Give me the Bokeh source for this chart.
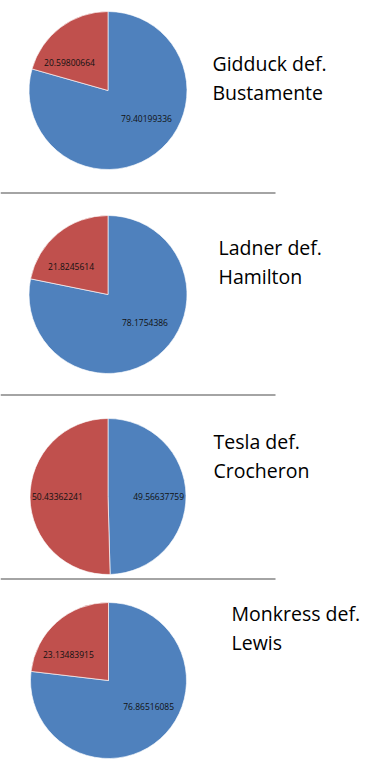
import math
from bokeh.plotting import figure
from bokeh.models import ColumnDataSource, Range1d
from bokeh.core.properties import value
from bokeh.embed import file_html
from bokeh.resources import INLINE

# ---- data ----
titles_line1 = ["Gidduck def.", "Ladner def.", "Tesla def.", "Monkress def."]
titles_line2 = ["Bustamente", "Hamilton", "Crocheron", "Lewis"]
winner_share = [79.40199336, 78.1754386, 49.56637759, 76.86516085]
loser_share = [20.59800664, 21.8245614, 50.43362241, 23.13483915]
winner_labels = ["79.40199336", "78.1754386", "49.56637759", "76.86516085"]
loser_labels = ["20.59800664", "21.8245614", "50.43362241", "23.13483915"]

# ---- layout (screen pixels, top-down) ----
W, H = 381, 773
pie_cx = [107.5, 107.5, 107.5, 108.0]
pie_cy = [90, 294, 496, 680]
pie_r = [79, 79, 78, 78]
title_x = [212, 218, 213, 231]
title_base = [63, 247, 441, 613]
line_gap = 29
sep_y = [192.5, 394.5, 578.5]
sep_x_end = 275

BLUE = "#4F81BD"
RED = "#C0504D"

p = figure(width=W, height=H, x_range=Range1d(0, W), y_range=Range1d(0, H),
           output_backend="svg", toolbar_location=None, min_border=0)
p.axis.visible = False
p.grid.visible = False
p.outline_line_color = None
p.background_fill_color = "white"
p.border_fill_color = "white"

wx, wy, wr, ws, we, wc = [], [], [], [], [], []
lx, ly, lt, la = [], [], [], []
for i in range(4):
    cx = pie_cx[i]
    cy = H - pie_cy[i]
    r = pie_r[i]
    total = winner_share[i] + loser_share[i]
    fw = winner_share[i] / total
    a0 = math.pi / 2
    a1 = a0 - fw * 2 * math.pi
    a2 = a0 - 2 * math.pi
    # winner slice (clockwise from 12 o'clock), then loser slice
    wx.append(cx); wy.append(cy); wr.append(r); ws.append(a0); we.append(a1); wc.append(BLUE)
    wx.append(cx); wy.append(cy); wr.append(r); ws.append(a1); we.append(a2); wc.append(RED)
    for (s, e, txt) in [(a0, a1, winner_labels[i]), (a1, a2, loser_labels[i])]:
        mid = (s + e) / 2
        dx, dy = math.cos(mid), math.sin(mid)
        px = cx + dx * 0.4 * r
        py = cy + dy * 0.45 * r
        if dx >= 0:
            lx.append(px - 6); la.append("left")
        else:
            lx.append(px + 6); la.append("right")
        ly.append(py); lt.append(txt)

src = ColumnDataSource(dict(x=wx, y=wy, r=wr, s=ws, e=we, c=wc))
p.wedge(x="x", y="y", radius="r", start_angle="s", end_angle="e", direction="clock",
        fill_color="c", line_color="white", line_width=0.8, line_alpha=0.8, source=src)

lsrc = ColumnDataSource(dict(x=lx, y=ly, t=lt, a=la))
p.text(x="x", y="y", text="t", text_align="a", text_baseline="middle",
       text_font=value("Open Sans"), text_font_size="8.5px", text_color="#111111", source=lsrc)

tx = title_x + title_x
ty = [H - b for b in title_base] + [H - b - line_gap for b in title_base]
tt = titles_line1 + titles_line2
p.text(x=tx, y=ty, text=tt, text_align="left", text_baseline="alphabetic",
       text_font=value("Open Sans"), text_font_size="19.5px", text_color="#000000")

p.segment(x0=[0] * 3, y0=[H - s for s in sep_y], x1=[sep_x_end] * 3, y1=[H - s for s in sep_y],
          line_color="#868686", line_width=1.5)

open("out.html", "w").write(file_html(p, INLINE))
